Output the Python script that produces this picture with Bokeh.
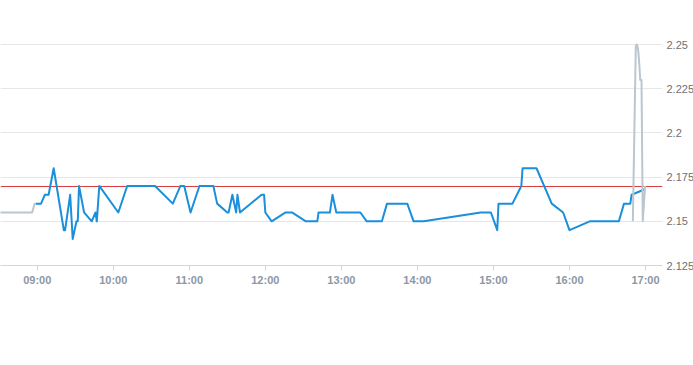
from datetime import datetime
from bokeh.plotting import figure
from bokeh.models import Span, FixedTicker, DatetimeTickFormatter, Range1d
from bokeh.embed import file_html
from bokeh.resources import INLINE

DAY = (2024, 1, 2)

def ts(s):
    parts = [int(v) for v in s.split(":")]
    while len(parts) < 3:
        parts.append(0)
    return datetime(*DAY, *parts)

def ms(s):
    return (ts(s) - datetime(1970, 1, 1)).total_seconds() * 1000.0

# ---- data ----
blue_times = ["08:59", "09:03", "09:06", "09:09", "09:13", "09:21", "09:22", "09:26", "09:28",
              "09:31", "09:32", "09:33", "09:37", "09:43", "09:46", "09:47", "09:49", "10:04",
              "10:11", "10:33", "10:47", "10:53", "10:56", "11:01", "11:08", "11:19", "11:22",
              "11:30", "11:31", "11:34", "11:37", "11:38", "11:40", "11:57", "11:59", "12:00",
              "12:05", "12:16", "12:21", "12:32", "12:41", "12:42", "12:51", "12:53", "12:56",
              "13:15", "13:20", "13:32", "13:36", "13:52", "13:57", "14:05", "14:50", "14:58",
              "15:03", "15:04", "15:15", "15:22", "15:23", "15:34", "15:46", "15:55", "16:00",
              "16:16", "16:39", "16:43", "16:48", "16:49", "16:59"]
blue_values = [2.16, 2.16, 2.165, 2.165, 2.18, 2.145, 2.145, 2.165, 2.14,
               2.15, 2.15, 2.17, 2.155, 2.15, 2.155, 2.15, 2.17, 2.155,
               2.17, 2.17, 2.16, 2.17, 2.17, 2.155, 2.17, 2.17, 2.16,
               2.155, 2.155, 2.165, 2.155, 2.165, 2.155, 2.165, 2.165, 2.155,
               2.15, 2.155, 2.155, 2.15, 2.15, 2.155, 2.155, 2.165, 2.155,
               2.155, 2.15, 2.15, 2.16, 2.16, 2.15, 2.15, 2.155, 2.155,
               2.145, 2.16, 2.16, 2.17, 2.18, 2.18, 2.16, 2.155, 2.145,
               2.15, 2.15, 2.16, 2.16, 2.165, 2.168]

grey_open_times = ["08:30", "08:56", "08:58", "08:59"]
grey_open_values = [2.155, 2.155, 2.16, 2.16]

grey_close_times = ["16:50:00", "16:52:20", "16:53:00", "16:53:40", "16:54:20",
                    "16:55:10", "16:55:50", "16:56:50", "16:57:50", "16:59:40"]
grey_close_values = [2.15, 2.249, 2.25, 2.249, 2.246, 2.238, 2.23, 2.23, 2.15, 2.17]

reference_level = 2.1697

x_tick_labels = ["09:00", "10:00", "11:00", "12:00", "13:00", "14:00", "15:00", "16:00", "17:00"]
y_ticks = [2.125, 2.15, 2.175, 2.2, 2.225, 2.25]
y_tick_labels = ["2.125", "2.15", "2.175", "2.2", "2.225", "2.25"]

X_START, X_END = "08:31:02", "17:13:24"
Y_START, Y_END = 2.125, 2.2749

# ---- figure ----
p = figure(x_axis_type="datetime", y_axis_location="right",
           frame_width=662, frame_height=265,
           min_border_left=0, min_border_top=0, min_border_right=0, min_border_bottom=98,
           x_range=Range1d(ts(X_START), ts(X_END)), y_range=Range1d(Y_START, Y_END),
           output_backend="svg", toolbar_location=None)
p.outline_line_color = None
p.background_fill_color = "white"
p.border_fill_color = "white"

p.xgrid.visible = False
p.ygrid.ticker = FixedTicker(ticks=y_ticks)
p.ygrid.grid_line_color = "#e6e6e6"
p.ygrid.grid_line_width = 1

span = Span(location=reference_level, dimension="width", line_color="#d93b3b",
            line_width=1, level="underlay")
p.add_layout(span)

p.line([ts(t) for t in blue_times], blue_values, line_color="#1a8fdc", line_width=2,
       line_join="round")
p.line([ts(t) for t in grey_open_times], grey_open_values, line_color="#bac6d0",
       line_width=2, line_join="round")
p.line([ts(t) for t in grey_close_times], grey_close_values, line_color="#bac6d0",
       line_width=2, line_join="round")

# x axis
xa = p.xaxis[0]
xa.ticker = FixedTicker(ticks=[ms(t) for t in x_tick_labels])
fmt = "%H:%M"
xa.formatter = DatetimeTickFormatter(milliseconds=fmt, seconds=fmt, minsec=fmt, minutes=fmt,
                                     hourmin=fmt, hours=fmt, days=fmt, months=fmt, years=fmt)
xa.axis_line_color = "#ccd6eb"
xa.major_tick_line_color = "#ccd6eb"
xa.major_tick_out = 5
xa.major_tick_in = 0
xa.minor_tick_line_color = None
xa.major_label_standoff = 3
xa.major_label_text_font = "Liberation Sans"
xa.major_label_text_font_size = "11px"
xa.major_label_text_font_style = "bold"
xa.major_label_text_color = "#8c97a5"

# y axis
ya = p.yaxis[0]
ya.ticker = FixedTicker(ticks=y_ticks)
ya.major_label_overrides = {v: lbl for v, lbl in zip(y_ticks, y_tick_labels)}
ya.axis_line_color = None
ya.major_tick_line_color = None
ya.major_tick_out = 0
ya.major_tick_in = 0
ya.minor_tick_line_color = None
ya.major_label_standoff = 4
ya.major_label_text_font = "Liberation Sans"
ya.major_label_text_font_size = "11px"
ya.major_label_text_color = "#707070"

open("out.html", "w").write(file_html(p, INLINE))
